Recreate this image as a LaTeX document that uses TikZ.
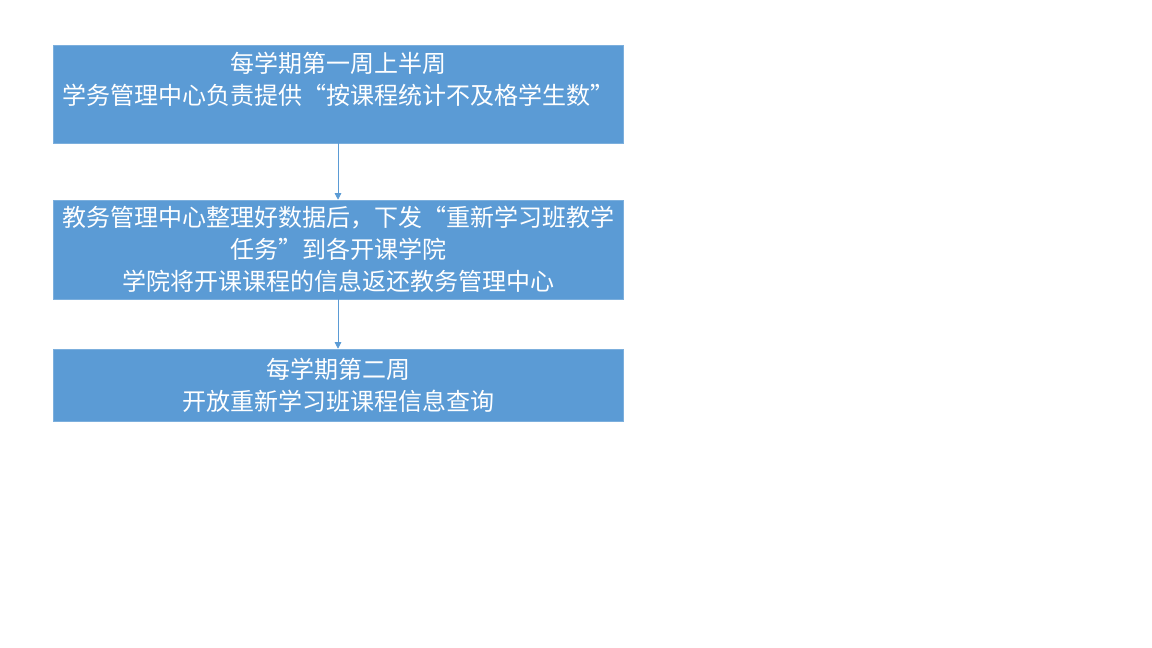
\documentclass[tikz,border=0pt]{standalone}
\usepackage{fontspec}
\usepackage{tikz}
\usetikzlibrary{arrows.meta}
\newfontfamily\cjk{Noto Sans CJK SC}
\definecolor{boxblue}{HTML}{5B9BD5}
\tikzset{
  stepbox/.style={fill=boxblue, draw=boxblue!80!white, text=white, align=center,
    minimum width=570*0.75pt, inner sep=0pt,
    font=\cjk\fontsize{18pt}{24pt}\selectfont},
  flow/.style={draw=boxblue, line width=0.6pt, -{Triangle[length=5pt, width=5pt]}}
}
\begin{document}
\begin{tikzpicture}[x=0.75pt, y=-0.75pt]
\useasboundingbox (0,0) rectangle (1152,648);
% 三个方框
\node[stepbox, minimum height=98*0.75pt] (week1) at (338,94)
  {每学期第一周上半周\\学务管理中心负责提供“按课程统计不及格学生数”\\\mbox{}};
\node[stepbox, minimum height=99*0.75pt] (task) at (338,249.5)
  {教务管理中心整理好数据后，下发“重新学习班教学\\任务”到各开课学院\\学院将开课课程的信息返还教务管理中心};
\node[stepbox, minimum height=72*0.75pt] (week2) at (338,385)
  {每学期第二周\\开放重新学习班课程信息查询};
% 箭头
\draw[flow] (week1) -- (task);
\draw[flow] (task) -- (week2);
\end{tikzpicture}
\end{document}
